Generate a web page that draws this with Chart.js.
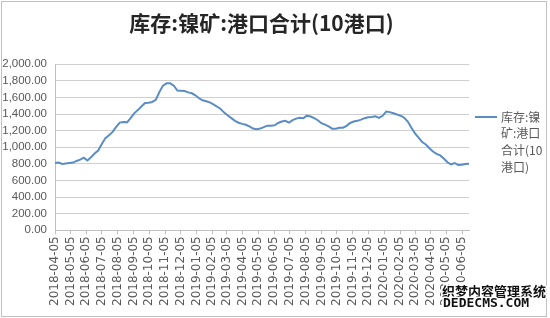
<!DOCTYPE html>
<html>
<head>
<meta charset="utf-8">
<script src="https://cdn.jsdelivr.net/npm/chart.js@4.4.1/dist/chart.umd.min.js"></script>
<style>
  html, body { margin: 0; padding: 0; background: #fff; }
  #wrap { width: 550px; height: 318px; }
</style>
</head>
<body>
<div id="wrap"><canvas id="stockChart" width="550" height="318"></canvas></div>
<script>
// series name and weekly values (first week 2018-04-05)
var seriesName = "库存:镍矿:港口合计(10港口)";
var legendLines = ["库存:镍", "矿:港口", "合计(10", "港口)"];
var firstWeek = "2018-04-05";
var stock = [810, 815, 798, 805, 810, 815, 835, 850, 875, 840,
    878, 925, 960, 1040, 1110, 1145, 1185, 1245, 1297, 1305,
    1300, 1350, 1408, 1447, 1490, 1533, 1535, 1545, 1570, 1665,
    1742, 1770, 1770, 1742, 1683, 1680, 1676, 1661, 1650, 1625,
    1590, 1565, 1554, 1540, 1515, 1490, 1460, 1417, 1382, 1350,
    1317, 1295, 1281, 1271, 1250, 1225, 1217, 1225, 1243, 1260,
    1260, 1265, 1292, 1310, 1318, 1297, 1326, 1345, 1354, 1350,
    1380, 1370, 1350, 1325, 1289, 1272, 1250, 1224, 1224, 1235,
    1235, 1258, 1292, 1310, 1318, 1333, 1350, 1362, 1365, 1372,
    1353, 1378, 1430, 1423, 1410, 1394, 1380, 1355, 1310, 1235,
    1167, 1116, 1062, 1033, 987, 949, 921, 901, 865, 819,
    794, 810, 785, 789, 799, 800];
var tickLabels = ["2018-04-05", "2018-05-05", "2018-06-05", "2018-07-05", "2018-08-05",
    "2018-09-05", "2018-10-05", "2018-11-05", "2018-12-05", "2019-01-05", "2019-02-05",
    "2019-03-05", "2019-04-05", "2019-05-05", "2019-06-05", "2019-07-05", "2019-08-05",
    "2019-09-05", "2019-10-05", "2019-11-05", "2019-12-05", "2020-01-05", "2020-02-05",
    "2020-03-05", "2020-04-05", "2020-05-05", "2020-06-05"];

var DAY = 86400000;
function toTime(s) { return Date.parse(s + "T00:00:00Z"); }
var t0 = toTime(firstWeek);
var points = stock.map(function (v, i) { return { x: t0 + i * 7 * DAY, y: v }; });
var tickValues = tickLabels.map(toTime);
var lineColor = "#5b8cc4";

var frame = {
    id: "frame",
    beforeDraw: function (chart) {
        var c = chart.ctx;
        c.save();
        c.fillStyle = "#fff";
        c.fillRect(0, 0, chart.width, chart.height);
        c.strokeStyle = "#c0c0c0";
        c.lineWidth = 1;
        c.strokeRect(1.5, 1.5, 545, 315);
        c.restore();
    },
    afterDraw: function (chart) {
        var c = chart.ctx;
        var ds = chart.data.datasets[0];
        c.save();
        // legend
        c.strokeStyle = ds.borderColor;
        c.lineWidth = 2;
        c.beginPath();
        c.moveTo(475, 117);
        c.lineTo(497, 117);
        c.stroke();
        c.fillStyle = "#595959";
        c.font = "12px 'Noto Sans CJK SC'";
        c.textBaseline = "middle";
        legendLines.forEach(function (t, i) {
            c.fillText(t, 501, 117 + i * 16.7);
        });
        // watermark
        c.lineJoin = "round";
        c.strokeStyle = "#fff";
        c.lineWidth = 3;
        c.fillStyle = "#111";
        c.font = "bold 13px 'Noto Sans CJK SC'";
        c.strokeText("织梦内容管理系统", 442, 291);
        c.fillText("织梦内容管理系统", 442, 291);
        c.font = "bold 13px 'DejaVu Sans Mono'";
        c.strokeText("DEDECMS.COM", 443, 304);
        c.fillText("DEDECMS.COM", 443, 304);
        c.restore();
    }
};

var ctx = document.getElementById("stockChart").getContext("2d");
var chart = new Chart(ctx, {
    type: "line",
    data: {
        datasets: [{
            label: seriesName,
            data: points,
            borderColor: lineColor,
            backgroundColor: lineColor,
            borderWidth: 2,
            pointRadius: 0,
            tension: 0,
            yAxisID: "y"
        }]
    },
    options: {
        responsive: false,
        animation: false,
        layout: { padding: { left: 2, right: 29, top: 0, bottom: 10 } },
        plugins: {
            legend: { display: false },
            tooltip: { enabled: false },
            title: {
                display: true,
                text: seriesName,
                color: "#262626",
                font: { family: "'Noto Sans CJK SC'", size: 21, weight: "bold" },
                padding: { top: 10, bottom: 29 }
            }
        },
        scales: {
            x: {
                type: "linear",
                min: t0,
                max: points[points.length - 1].x,
                afterBuildTicks: function (s) {
                    s.ticks = tickValues.map(function (v) { return { value: v }; });
                },
                grid: { drawOnChartArea: false, drawTicks: true, tickLength: 4, color: "#bfbfbf" },
                border: { color: "#bfbfbf" },
                ticks: {
                    autoSkip: false,
                    minRotation: 90,
                    maxRotation: 90,
                    padding: 2,
                    color: "#595959",
                    font: { family: "'DejaVu Sans'", size: 12 },
                    callback: function (v) {
                        var i = tickValues.indexOf(v);
                        return i >= 0 ? tickLabels[i] : "";
                    }
                }
            },
            y: {
                position: "left",
                min: 0,
                max: 2000,
                afterFit: function (s) { s.width = 53; },
                grid: { color: "#cfcfcf", drawTicks: false },
                border: { color: "#bfbfbf" },
                ticks: {
                    stepSize: 200,
                    autoSkip: false,
                    padding: 8,
                    color: "#595959",
                    font: { family: "'Liberation Sans'", size: 11.5 },
                    callback: function (v) {
                        return v.toLocaleString("en-US", { minimumFractionDigits: 2, maximumFractionDigits: 2 });
                    }
                }
            },
            legendSpace: {
                position: "right",
                display: true,
                grid: { display: false },
                border: { display: false },
                ticks: { display: false },
                afterFit: function (s) { s.width = 52; }
            }
        }
    },
    plugins: [frame]
});
</script>
</body>
</html>
